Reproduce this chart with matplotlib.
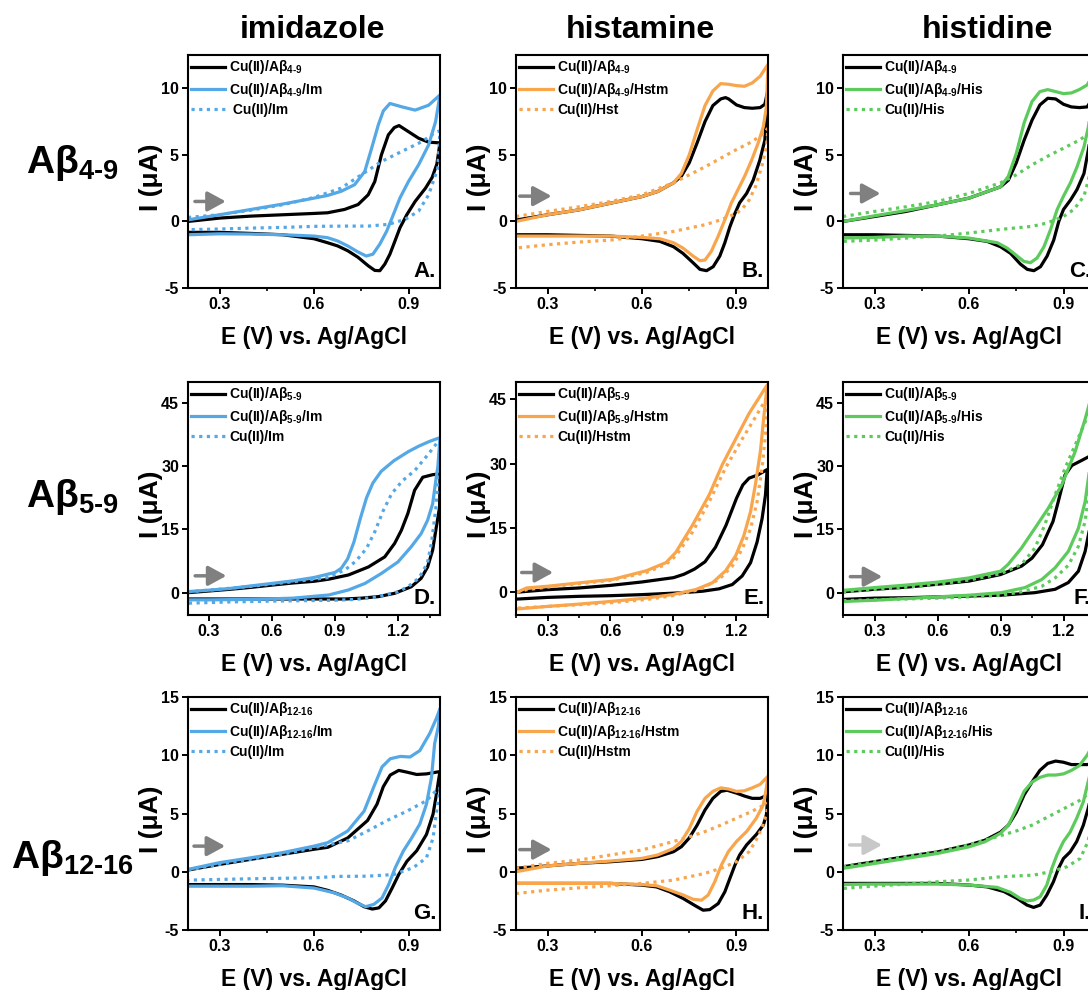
import matplotlib
matplotlib.use('Agg')
import matplotlib.pyplot as plt
from matplotlib.ticker import FixedLocator, MultipleLocator

plt.rcParams.update({
    'font.family': ['Liberation Sans', 'DejaVu Sans'],
    'font.weight': 'bold',
    'axes.labelweight': 'bold',
    'mathtext.fontset': 'custom',
    'mathtext.rm': 'Liberation Sans:bold',
    'mathtext.bf': 'Liberation Sans:bold',
    'mathtext.it': 'Liberation Sans:bold:italic',
    'mathtext.sf': 'Liberation Sans:bold',
    'axes.unicode_minus': False,
})

# ---------------- data (E in V, I in uA); each list = forward scan then reverse scan
col_titles = ['imidazole', 'histamine', 'histidine']
row_peptides = ['4-9', '5-9', '12-16']
ligands = ['Im', 'Hstm', 'His']
dotted_labels = [[' Cu(II)/Im', 'Cu(II)/Hst', 'Cu(II)/His'],
                 ['Cu(II)/Im', 'Cu(II)/Hstm', 'Cu(II)/His'],
                 ['Cu(II)/Im', 'Cu(II)/Hstm', 'Cu(II)/His']]
panel_letters = ['A.', 'B.', 'C.', 'D.', 'E.', 'F.', 'G.', 'H.', 'I.']

# Panel A
A_blk_E = [0.2, 0.3, 0.4, 0.5, 0.6, 0.643, 0.697, 0.74, 0.772, 0.793, 0.814, 0.836, 0.855, 0.87, 0.9, 0.932, 0.964, 1.0,
           0.99, 0.975, 0.954, 0.921, 0.895, 0.873, 0.857, 0.841, 0.825, 0.809, 0.793, 0.772, 0.74, 0.707, 0.675, 0.643, 0.6, 0.5, 0.4, 0.3, 0.2]
A_blk_I = [0.0, 0.25, 0.4, 0.5, 0.6, 0.65, 0.9, 1.27, 2.0, 3.0, 5.0, 6.5, 7.05, 7.2, 6.74, 6.25, 5.95, 5.9,
           4.3, 3.3, 2.5, 1.5, 0.52, -0.47, -1.47, -2.46, -3.2, -3.7, -3.68, -3.33, -2.7, -2.2, -1.84, -1.6, -1.3, -1.0, -0.9, -0.82, -0.82]
A_col_E = [0.2, 0.3, 0.4, 0.5, 0.6, 0.643, 0.686, 0.729, 0.761, 0.783, 0.804, 0.82, 0.841, 0.88, 0.921, 0.964, 1.0,
           0.986, 0.964, 0.932, 0.9, 0.873, 0.852, 0.831, 0.809, 0.787, 0.766, 0.74, 0.707, 0.675, 0.643, 0.6, 0.5, 0.4, 0.3, 0.2]
A_col_I = [0.12, 0.5, 0.9, 1.3, 1.75, 1.95, 2.26, 2.76, 3.75, 5.5, 7.24, 8.3, 8.86, 8.6, 8.36, 8.73, 9.5,
           7.5, 5.75, 4.25, 3.0, 1.77, 0.52, -0.72, -1.7, -2.46, -2.6, -2.3, -1.84, -1.47, -1.22, -1.1, -1.0, -0.95, -0.93, -1.0]
A_dot_E = [0.2, 0.3, 0.4, 0.5, 0.6, 0.686, 0.75, 0.814, 0.878, 0.943, 0.986, 1.0,
           0.993, 0.964, 0.932, 0.889, 0.836, 0.772, 0.7, 0.6, 0.5, 0.4, 0.3, 0.2]
A_dot_I = [0.3, 0.5, 0.85, 1.25, 1.8, 2.5, 3.5, 4.5, 5.25, 6.0, 6.7, 6.8,
           4.0, 2.0, 0.77, 0.15, -0.22, -0.35, -0.35, -0.37, -0.45, -0.5, -0.57, -0.62]

# Panel B
B_blk_E = [0.2, 0.3, 0.4, 0.5, 0.6, 0.65, 0.7, 0.725, 0.75, 0.775, 0.8, 0.825, 0.85, 0.865, 0.875, 0.9, 0.925, 0.95, 0.975, 0.99, 1.0,
           0.99, 0.974, 0.953, 0.932, 0.91, 0.895, 0.879, 0.863, 0.847, 0.826, 0.805, 0.784, 0.762, 0.73, 0.7, 0.657, 0.6, 0.5, 0.4, 0.3, 0.2]
B_blk_I = [0.1, 0.5, 0.87, 1.37, 1.87, 2.25, 2.9, 3.4, 4.4, 5.9, 7.5, 8.7, 9.2, 9.3, 9.2, 8.75, 8.55, 8.5, 8.55, 8.8, 9.9,
           6.1, 4.6, 3.1, 2.1, 1.4, 0.6, -0.4, -1.6, -2.6, -3.4, -3.7, -3.6, -3.1, -2.4, -1.9, -1.5, -1.3, -1.1, -1.05, -1.0, -1.0]
B_col_E = [0.2, 0.3, 0.4, 0.5, 0.6, 0.65, 0.7, 0.725, 0.75, 0.775, 0.8, 0.825, 0.85, 0.875, 0.9, 0.925, 0.95, 0.975, 1.0,
           0.995, 0.985, 0.969, 0.948, 0.926, 0.905, 0.884, 0.863, 0.842, 0.82, 0.8, 0.784, 0.762, 0.73, 0.7, 0.657, 0.6, 0.5, 0.4, 0.3, 0.2]
B_col_I = [0.0, 0.5, 0.87, 1.37, 1.87, 2.25, 2.9, 3.6, 5.0, 6.9, 8.7, 9.8, 10.35, 10.3, 10.2, 10.15, 10.4, 10.9, 11.8,
           8.6, 7.1, 5.9, 4.6, 3.4, 2.4, 1.4, 0.12, -1.1, -2.25, -2.9, -2.95, -2.6, -2.0, -1.6, -1.3, -1.2, -1.1, -1.1, -1.1, -1.1]
B_dot_E = [0.2, 0.3, 0.4, 0.5, 0.6, 0.7, 0.75, 0.8, 0.85, 0.9, 0.95, 0.98, 1.0,
           0.995, 0.98, 0.96, 0.94, 0.92, 0.9, 0.85, 0.8, 0.7, 0.6, 0.5, 0.4, 0.3, 0.2]
B_dot_I = [0.37, 0.75, 1.1, 1.5, 2.0, 2.9, 3.5, 4.1, 4.75, 5.4, 6.0, 6.5, 7.0,
           5.6, 4.1, 2.6, 1.6, 1.0, 0.6, 0.12, -0.25, -0.75, -1.1, -1.4, -1.55, -1.75, -2.0]

# Panel C
C_blk_E = [0.2, 0.3, 0.4, 0.5, 0.6, 0.7, 0.725, 0.75, 0.775, 0.8, 0.825, 0.85, 0.875, 0.9, 0.925, 0.95, 0.975, 1.0,
           0.99, 0.979, 0.965, 0.943, 0.922, 0.9, 0.885, 0.869, 0.848, 0.827, 0.806, 0.785, 0.763, 0.732, 0.7, 0.658, 0.6, 0.5, 0.4, 0.3, 0.2]
C_blk_I = [0.0, 0.37, 0.75, 1.25, 1.75, 2.6, 3.1, 4.4, 6.1, 7.6, 8.75, 9.25, 9.2, 8.8, 8.6, 8.55, 8.6, 9.5,
           7.0, 5.4, 3.6, 2.4, 1.6, 0.9, 0.0, -1.4, -2.6, -3.4, -3.7, -3.6, -3.2, -2.4, -1.9, -1.5, -1.3, -1.1, -1.05, -1.0, -1.0]
C_col_E = [0.2, 0.3, 0.4, 0.5, 0.6, 0.7, 0.725, 0.75, 0.775, 0.8, 0.825, 0.85, 0.875, 0.9, 0.925, 0.95, 0.975, 1.0,
           0.99, 0.979, 0.965, 0.943, 0.922, 0.9, 0.88, 0.859, 0.838, 0.816, 0.795, 0.774, 0.753, 0.721, 0.69, 0.6, 0.5, 0.4, 0.3, 0.2]
C_col_I = [0.0, 0.42, 0.82, 1.25, 1.75, 2.6, 3.4, 5.1, 7.4, 9.0, 9.75, 9.9, 9.75, 9.6, 9.65, 9.9, 10.25, 11.2,
           8.8, 7.1, 5.6, 4.1, 2.9, 1.9, 0.9, -0.6, -1.9, -2.75, -3.1, -3.0, -2.6, -2.0, -1.6, -1.25, -1.1, -1.1, -1.2, -1.25]
C_dot_E = [0.2, 0.3, 0.4, 0.5, 0.6, 0.7, 0.75, 0.8, 0.85, 0.9, 0.95, 0.975, 1.0,
           0.99, 0.979, 0.965, 0.933, 0.9, 0.848, 0.8, 0.7, 0.6, 0.5, 0.4, 0.3, 0.2]
C_dot_I = [0.37, 0.75, 1.1, 1.5, 2.1, 2.9, 3.5, 4.25, 4.9, 5.5, 6.1, 6.5, 7.0,
           4.6, 3.1, 1.9, 0.9, 0.37, -0.12, -0.37, -0.6, -0.87, -1.1, -1.25, -1.4, -1.5]

# Panel D
D_blk_E = [0.2, 0.3, 0.4, 0.5, 0.6, 0.7, 0.8, 0.87, 0.964, 1.059, 1.137, 1.184, 1.216, 1.247, 1.279, 1.318, 1.365, 1.4,
           1.398, 1.38, 1.365, 1.341, 1.31, 1.263, 1.184, 1.106, 1.027, 0.949, 0.9, 0.6, 0.3, 0.2]
D_blk_I = [0.0, 0.4, 0.8, 1.26, 1.8, 2.3, 2.7, 3.2, 4.2, 6.1, 8.5, 11.7, 14.8, 18.8, 24.3, 27.4, 28.0, 28.2,
           20.3, 14.8, 10.1, 6.1, 3.4, 1.4, -0.15, -0.94, -1.3, -1.5, -1.5, -1.5, -1.5, -1.5]
D_col_E = [0.2, 0.3, 0.4, 0.5, 0.6, 0.7, 0.8, 0.9, 0.93, 0.96, 0.99, 1.02, 1.05, 1.08, 1.12, 1.18, 1.25, 1.3, 1.35, 1.4,
           1.39, 1.38, 1.365, 1.341, 1.31, 1.263, 1.2, 1.122, 1.043, 0.964, 0.87, 0.7, 0.5, 0.3, 0.2]
D_col_I = [0.25, 0.6, 1.0, 1.6, 2.2, 2.8, 3.6, 4.8, 5.8, 8.0, 12.0, 17.5, 22.5, 26.0, 28.8, 31.3, 33.5, 34.8, 35.9, 36.8,
           30.0, 26.6, 21.1, 17.2, 14.0, 10.9, 7.3, 4.6, 2.2, 0.64, -0.55, -1.3, -1.6, -1.7, -1.7]
D_dot_E = [0.2, 0.3, 0.5, 0.7, 0.87, 0.95, 1.0, 1.05, 1.09, 1.13, 1.17, 1.22, 1.28, 1.33, 1.37, 1.4,
           1.39, 1.38, 1.36, 1.34, 1.3, 1.25, 1.2, 1.1, 1.0, 0.9, 0.6, 0.4, 0.2]
D_dot_I = [0.2, 0.6, 1.5, 2.6, 3.6, 5.5, 7.5, 10.5, 14.5, 19.5, 23.5, 26.5, 29.0, 32.0, 34.5, 36.5,
           26.0, 20.0, 12.0, 7.0, 3.5, 1.5, 0.2, -1.0, -1.6, -1.8, -2.0, -2.2, -2.5]

# Panel E
E_blk_E = [0.15, 0.3, 0.45, 0.6, 0.75, 0.9, 0.95, 1.0, 1.05, 1.1, 1.15, 1.2, 1.23, 1.26, 1.3, 1.346,
           1.338, 1.322, 1.298, 1.267, 1.227, 1.18, 1.117, 1.038, 0.927, 0.75, 0.6, 0.45, 0.3, 0.15]
E_blk_I = [0.0, 0.6, 1.0, 1.6, 2.4, 3.4, 4.2, 5.4, 7.1, 10.5, 15.6, 21.9, 25.0, 26.6, 27.3, 28.6,
           22.7, 17.2, 11.7, 6.9, 3.8, 1.8, 0.8, 0.24, -0.15, -0.55, -0.8, -0.95, -1.2, -1.6]
E_col_E = [0.155, 0.2, 0.3, 0.453, 0.61, 0.77, 0.864, 0.911, 0.99, 1.07, 1.133, 1.196, 1.259, 1.346,
           1.33, 1.314, 1.29, 1.267, 1.235, 1.196, 1.148, 1.085, 1.006, 0.896, 0.77, 0.611, 0.453, 0.3, 0.155]
E_col_I = [0.0, 1.0, 1.4, 2.2, 3.0, 5.0, 6.9, 9.3, 15.6, 22.7, 29.8, 35.7, 41.6, 48.3,
           40.8, 32.9, 25.1, 18.8, 13.2, 8.5, 5.0, 2.2, 0.63, -0.55, -1.34, -2.1, -2.75, -3.3, -3.9]
E_dot_E = [0.155, 0.2, 0.3, 0.45, 0.6, 0.77, 0.864, 0.911, 0.99, 1.07, 1.148, 1.227, 1.29, 1.346,
           1.338, 1.322, 1.298, 1.267, 1.227, 1.18, 1.117, 1.022, 0.896, 0.77, 0.61, 0.45, 0.3, 0.155]
E_dot_I = [0.0, 0.6, 1.2, 2.0, 2.75, 4.6, 6.5, 8.5, 14.0, 21.1, 29.0, 35.7, 40.8, 45.5,
           36.9, 29.0, 21.1, 14.8, 10.1, 6.1, 3.0, 0.63, -0.8, -1.7, -2.4, -2.9, -3.3, -3.7]

# Panel F
F_blk_E = [0.15, 0.3, 0.45, 0.6, 0.75, 0.9, 1.0, 1.05, 1.1, 1.15, 1.175, 1.207, 1.24, 1.287, 1.325, 1.35,
           1.34, 1.325, 1.303, 1.271, 1.223, 1.16, 1.063, 0.904, 0.6, 0.45, 0.3, 0.15]
F_blk_I = [0.2, 0.8, 1.3, 2.0, 2.75, 4.3, 6.3, 8.2, 11.4, 16.9, 21.6, 27.9, 30.2, 31.4, 32.4, 33.0,
           24.0, 15.3, 9.8, 5.1, 2.4, 0.8, 0.0, -0.6, -1.0, -1.2, -1.3, -1.6]
F_col_E = [0.15, 0.3, 0.45, 0.6, 0.75, 0.9, 0.936, 1.0, 1.064, 1.127, 1.191, 1.255, 1.303, 1.325, 1.35,
           1.34, 1.325, 1.303, 1.271, 1.223, 1.16, 1.096, 1.016, 0.904, 0.75, 0.6, 0.45, 0.3, 0.15]
F_col_I = [0.55, 1.2, 1.8, 2.5, 3.5, 5.1, 6.7, 10.6, 15.3, 20.0, 25.5, 33.4, 41.2, 45.2, 47.5,
           38.0, 29.5, 21.6, 15.3, 9.8, 5.9, 3.1, 1.2, 0.0, -0.6, -1.0, -1.4, -1.8, -2.1]
F_dot_E = [0.15, 0.3, 0.45, 0.6, 0.75, 0.9, 1.0, 1.064, 1.111, 1.16, 1.207, 1.255, 1.303, 1.325, 1.35,
           1.34, 1.325, 1.303, 1.271, 1.223, 1.16, 1.096, 1.0, 0.9, 0.75, 0.6, 0.45, 0.3, 0.15]
F_dot_I = [0.2, 0.8, 1.3, 2.0, 3.0, 4.5, 6.7, 10.6, 16.1, 23.2, 29.5, 35.0, 40.5, 43.6, 46.0,
           33.0, 25.0, 17.0, 11.0, 6.5, 3.5, 1.5, 0.2, -0.6, -1.0, -1.3, -1.5, -1.7, -1.9]

# Panel G
G_blk_E = [0.2, 0.3, 0.4, 0.5, 0.6, 0.644, 0.707, 0.77, 0.8, 0.82, 0.842, 0.869, 0.895, 0.926, 0.957, 0.989, 1.0,
           0.995, 0.989, 0.978, 0.957, 0.926, 0.895, 0.869, 0.848, 0.827, 0.806, 0.785, 0.759, 0.727, 0.686, 0.644, 0.6, 0.5, 0.4, 0.3, 0.2]
G_blk_I = [0.15, 0.63, 1.07, 1.5, 1.93, 2.1, 2.9, 4.4, 5.8, 7.3, 8.3, 8.7, 8.55, 8.35, 8.4, 8.55, 8.6,
           7.8, 6.7, 4.95, 3.2, 1.8, 0.9, -0.24, -1.4, -2.5, -3.1, -3.2, -3.0, -2.5, -2.0, -1.6, -1.3, -1.15, -1.1, -1.1, -1.1]
G_col_E = [0.2, 0.3, 0.4, 0.5, 0.6, 0.644, 0.707, 0.759, 0.79, 0.816, 0.842, 0.874, 0.905, 0.936, 0.968, 0.989, 1.0,
           0.995, 0.983, 0.973, 0.957, 0.936, 0.91, 0.884, 0.858, 0.837, 0.816, 0.79, 0.764, 0.738, 0.707, 0.663, 0.6, 0.5, 0.4, 0.3, 0.2]
G_col_I = [0.2, 0.78, 1.2, 1.64, 2.2, 2.5, 3.5, 5.2, 7.3, 9.0, 9.7, 9.9, 9.85, 10.4, 11.9, 13.2, 14.0,
           12.5, 11.0, 8.1, 5.8, 4.1, 2.9, 1.8, 0.35, -1.1, -2.25, -2.8, -3.0, -2.7, -2.25, -1.8, -1.4, -1.2, -1.24, -1.24, -1.24]
G_dot_E = [0.2, 0.3, 0.4, 0.5, 0.6, 0.707, 0.77, 0.832, 0.895, 0.957, 0.989, 1.0,
           0.995, 0.989, 0.978, 0.957, 0.915, 0.853, 0.77, 0.676, 0.6, 0.4, 0.3, 0.2]
G_dot_I = [0.15, 0.63, 1.07, 1.5, 2.07, 2.65, 3.5, 4.4, 5.2, 6.1, 7.0, 7.2,
           6.2, 5.2, 2.9, 1.2, 0.35, -0.24, -0.38, -0.4, -0.52, -0.6, -0.66, -0.72]

# Panel H
H_blk_E = [0.2, 0.3, 0.4, 0.5, 0.6, 0.65, 0.7, 0.725, 0.75, 0.775, 0.8, 0.825, 0.85, 0.87, 0.9, 0.925, 0.95, 0.975, 1.0,
           0.995, 0.985, 0.963, 0.932, 0.91, 0.895, 0.879, 0.863, 0.842, 0.815, 0.794, 0.768, 0.731, 0.688, 0.646, 0.6, 0.5, 0.4, 0.3, 0.2]
H_blk_I = [0.3, 0.5, 0.72, 0.86, 1.06, 1.3, 1.72, 2.15, 2.9, 4.0, 5.3, 6.3, 6.9, 7.0, 6.75, 6.5, 6.3, 6.3, 6.6,
           4.9, 4.0, 3.2, 2.3, 1.44, 0.57, -0.57, -1.72, -2.73, -3.25, -3.3, -2.9, -2.3, -1.72, -1.3, -1.15, -1.0, -1.0, -1.0, -1.0]
H_col_E = [0.2, 0.3, 0.4, 0.5, 0.6, 0.65, 0.7, 0.725, 0.75, 0.775, 0.8, 0.825, 0.85, 0.875, 0.9, 0.925, 0.95, 0.975, 1.0,
           0.993, 0.985, 0.963, 0.932, 0.9, 0.874, 0.852, 0.831, 0.81, 0.789, 0.762, 0.731, 0.688, 0.646, 0.6, 0.5, 0.4, 0.3, 0.2]
H_col_I = [0.0, 0.5, 0.72, 0.92, 1.15, 1.44, 2.0, 2.6, 3.7, 5.2, 6.3, 6.9, 7.2, 7.1, 6.9, 6.95, 7.2, 7.5, 8.2,
           6.9, 5.75, 4.6, 3.45, 2.6, 1.72, 0.57, -0.86, -2.0, -2.44, -2.36, -2.0, -1.58, -1.2, -1.1, -1.0, -1.0, -1.0, -1.0]
H_dot_E = [0.2, 0.3, 0.4, 0.5, 0.6, 0.7, 0.75, 0.8, 0.85, 0.9, 0.95, 1.0,
           0.995, 0.98, 0.96, 0.94, 0.9, 0.85, 0.8, 0.7, 0.6, 0.5, 0.4, 0.3, 0.2]
H_dot_I = [0.3, 0.72, 1.0, 1.44, 1.87, 2.6, 3.0, 3.45, 4.0, 4.6, 5.2, 5.9,
           4.9, 3.7, 2.6, 1.72, 0.86, 0.29, -0.14, -0.72, -1.0, -1.2, -1.38, -1.58, -1.87]

# Panel I
I_blk_E = [0.2, 0.3, 0.4, 0.5, 0.6, 0.65, 0.7, 0.725, 0.75, 0.775, 0.8, 0.825, 0.85, 0.875, 0.9, 0.925, 0.95, 0.975, 1.0,
           0.995, 0.99, 0.978, 0.963, 0.942, 0.921, 0.9, 0.884, 0.868, 0.847, 0.826, 0.805, 0.784, 0.753, 0.711, 0.658, 0.6, 0.5, 0.4, 0.3, 0.2]
I_blk_I = [0.43, 0.86, 1.3, 1.7, 2.3, 2.7, 3.4, 4.0, 5.1, 6.6, 7.7, 8.7, 9.3, 9.5, 9.4, 9.2, 9.2, 9.2, 9.3,
           7.5, 6.8, 5.4, 4.0, 2.6, 1.7, 1.14, 0.29, -0.86, -2.0, -2.86, -3.06, -2.86, -2.3, -1.7, -1.3, -1.14, -1.0, -1.0, -1.0, -1.0]
I_col_E = [0.2, 0.3, 0.4, 0.5, 0.6, 0.65, 0.7, 0.725, 0.75, 0.775, 0.8, 0.825, 0.85, 0.875, 0.9, 0.925, 0.95, 0.975, 1.0,
           0.99, 0.978, 0.963, 0.942, 0.921, 0.9, 0.879, 0.863, 0.847, 0.826, 0.805, 0.784, 0.763, 0.732, 0.689, 0.6, 0.5, 0.4, 0.3, 0.2]
I_col_I = [0.29, 0.71, 1.14, 1.57, 2.14, 2.57, 3.3, 4.0, 5.4, 6.9, 7.7, 8.1, 8.3, 8.3, 8.4, 8.7, 9.1, 10.0, 11.2,
           9.0, 7.7, 6.0, 4.6, 3.4, 2.6, 1.43, 0.29, -1.14, -2.14, -2.43, -2.5, -2.3, -1.77, -1.34, -1.14, -1.06, -1.06, -1.06, -1.09]
I_dot_E = [0.2, 0.3, 0.4, 0.5, 0.6, 0.7, 0.75, 0.8, 0.85, 0.9, 0.95, 0.975, 1.0,
           0.995, 0.99, 0.978, 0.953, 0.911, 0.858, 0.805, 0.7, 0.6, 0.5, 0.4, 0.3, 0.2]
I_dot_I = [0.43, 0.86, 1.3, 1.7, 2.3, 3.1, 3.5, 4.0, 4.7, 5.4, 6.1, 6.6, 7.2,
           5.5, 4.2, 2.6, 1.14, 0.43, 0.0, -0.29, -0.43, -0.71, -0.86, -1.06, -1.23, -1.43]

curves = [
    [(A_blk_E, A_blk_I), (A_col_E, A_col_I), (A_dot_E, A_dot_I)],
    [(B_blk_E, B_blk_I), (B_col_E, B_col_I), (B_dot_E, B_dot_I)],
    [(C_blk_E, C_blk_I), (C_col_E, C_col_I), (C_dot_E, C_dot_I)],
    [(D_blk_E, D_blk_I), (D_col_E, D_col_I), (D_dot_E, D_dot_I)],
    [(E_blk_E, E_blk_I), (E_col_E, E_col_I), (E_dot_E, E_dot_I)],
    [(F_blk_E, F_blk_I), (F_col_E, F_col_I), (F_dot_E, F_dot_I)],
    [(G_blk_E, G_blk_I), (G_col_E, G_col_I), (G_dot_E, G_dot_I)],
    [(H_blk_E, H_blk_I), (H_col_E, H_col_I), (H_dot_E, H_dot_I)],
    [(I_blk_E, I_blk_I), (I_col_E, I_col_I), (I_dot_E, I_dot_I)],
]

# scan-direction arrows (x start, x end, y)
arrows = [(0.222, 0.32, 1.5), (0.212, 0.313, 1.9), (0.224, 0.319, 2.1),
          (0.234, 0.383, 4.0), (0.177, 0.327, 4.6), (0.185, 0.337, 3.8),
          (0.219, 0.318, 2.2), (0.212, 0.313, 1.9), (0.221, 0.324, 2.3)]

# ---------------- styling / layout
col_colors = ['#55A8E6', '#F8A54C', '#5CCB5C']
W, H = 1088.0, 990.0
col_left = [188, 516, 843]
row_top = [55, 382, 697]
ax_w, ax_h = 252, 233
xlims = [[(0.2, 1.0)] * 3, [(0.2, 1.4), (0.15, 1.35), (0.15, 1.35)], [(0.2, 1.0)] * 3]
ylims = [[(-5, 12.5)] * 3, [(-5.3, 50), (-5.3, 49), (-5.3, 50)], [(-5, 15)] * 3]
xticks = [[0.3, 0.6, 0.9], [0.3, 0.6, 0.9, 1.2], [0.3, 0.6, 0.9]]
yticks = [[-5, 0, 5, 10], [0, 15, 30, 45], [-5, 0, 5, 10, 15]]


def sub(s):
    return r'$_{\text{' + s + '}}$'


fig = plt.figure(figsize=(W / 100, H / 100), dpi=100)
fig.patch.set_facecolor('white')

for r in range(3):
    for c in range(3):
        k = r * 3 + c
        ax = fig.add_axes([col_left[c] / W, 1 - (row_top[r] + ax_h) / H, ax_w / W, ax_h / H])
        pep = sub(row_peptides[r])
        labels = ['Cu(II)/A\u03b2' + pep,
                  'Cu(II)/A\u03b2' + pep + '/' + ligands[c],
                  dotted_labels[r][c]]
        (e0, i0), (e1, i1), (e2, i2) = curves[k]
        ax.plot(e0, i0, color='black', lw=2.3, label=labels[0], solid_joinstyle='round')
        ax.plot(e1, i1, color=col_colors[c], lw=2.3, label=labels[1], solid_joinstyle='round')
        ax.plot(e2, i2, color=col_colors[c], lw=2.3, ls=(0, (1, 1.4)), dash_capstyle='butt',
                label=labels[2])
        ax.set_xlim(*xlims[r][c])
        ax.set_ylim(*ylims[r][c])
        ax.xaxis.set_major_locator(FixedLocator(xticks[r]))
        ax.xaxis.set_minor_locator(MultipleLocator(0.15))
        ax.yaxis.set_major_locator(FixedLocator(yticks[r]))
        ax.tick_params(axis='both', which='major', direction='out', length=4, width=1.4,
                       labelsize=11.5, pad=2.5)
        ax.tick_params(axis='x', which='minor', direction='out', length=2.5, width=1.2)
        ax.tick_params(axis='y', which='minor', left=False)
        for lab in ax.get_xticklabels() + ax.get_yticklabels():
            lab.set_fontweight('bold')
        for sp in ax.spines.values():
            sp.set_linewidth(1.5)
        ax.set_xlabel('E (V) vs. Ag/AgCl', fontsize=16.5, fontweight='bold')
        ax.set_ylabel('I (\u03bcA)', fontsize=19, fontweight='bold')
        ax.xaxis.set_label_coords(0.5, -0.165)
        ax.yaxis.set_label_coords(-0.10, 0.475)
        ax.legend(loc='upper left', frameon=False, fontsize=10, handlelength=2.4,
                  handletextpad=0.3, labelspacing=0.3, borderaxespad=0.1, borderpad=0.15)
        x0, x1, ya = arrows[k]
        acol = '#c8c8c8' if k == 8 else '#808080'
        ax.annotate('', xy=(x1, ya), xytext=(x0, ya),
                    arrowprops=dict(arrowstyle='-|>,head_length=0.55,head_width=0.3', color=acol,
                                    lw=2.5, shrinkA=0, shrinkB=0, mutation_scale=20))
        ax.text(0.985, 0.025, panel_letters[k], transform=ax.transAxes, ha='right', va='bottom',
                fontsize=16, fontweight='bold')

# column titles
for c, t in enumerate(col_titles):
    cx = [313, 640, 987][c]
    fig.text(cx / W, 1 - 30 / H, t, ha='center', va='center', fontsize=23, fontweight='bold')

# row labels
row_y = [163, 497, 858]
for r in range(3):
    fig.text(72 / W, 1 - row_y[r] / H, 'A\u03b2' + sub(row_peptides[r]), ha='center', va='center',
             fontsize=28, fontweight='bold')

fig.savefig('out.png', dpi=100, facecolor='white')
